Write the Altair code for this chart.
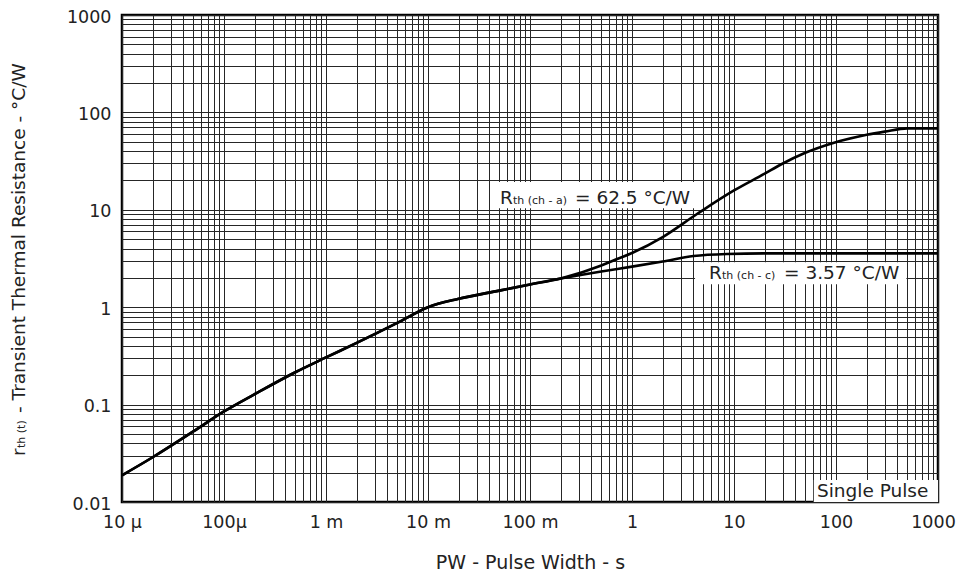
import json
import altair as alt
import pandas as pd

# ---------------- data ----------------
# shared part of both curves: pulse width [s] -> r_th(t) [°C/W]
common_x = [1e-5, 2e-5, 5e-5, 1e-4, 2e-4, 5e-4, 1e-3, 2e-3, 5e-3, 1e-2, 2e-2, 5e-2, 1e-1, 2e-1]
common_y = [0.0188, 0.0288, 0.053, 0.085, 0.128, 0.215, 0.305, 0.43, 0.69, 1.0, 1.22, 1.48, 1.71, 1.97]

# branch: Rth(ch-a) = 62.5 °C/W
ca_x = [0.5, 0.65, 1, 2, 4.3, 10, 20, 28.5, 50, 94, 200, 300, 500, 1000]
ca_y = [2.68, 3.0, 3.6, 5.25, 9.0, 15.8, 23.5, 29.0, 38.5, 48.6, 59, 63.5, 68.5, 68.5]

# branch: Rth(ch-c) = 3.57 °C/W
cc_x = [0.5, 1, 2, 4, 8.5, 20, 1000]
cc_y = [2.33, 2.61, 2.95, 3.35, 3.52, 3.57, 3.57]

# tick labels
x_tick_labels = ["10 μ", "100μ", "1 m", "10 m", "100 m", "1", "10", "100", "1000"]
y_tick_labels = ["0.01", "0.1", "1", "10", "100", "1000"]

# annotations
label_x = [0.0508, 5.69]
label_y = [11.4, 1.97]
label_sym = ["R", "R"]
label_sub = ["th (ch - a)", "th (ch - c)"]
label_val = ["= 62.5 °C/W", "= 3.57 °C/W"]

box_x1 = [0.0415, 4.15, 60.6]
box_x2 = [4.9, 490, 1000]
box_y1 = [10.4, 1.72, 0.01]
box_y2 = [19.3, 2.9, 0.0168]

single_x = [65]
single_y = [0.0113]
single_text = ["Single Pulse"]

# ---------------- build tables ----------------
rows = []
for name, bx, by in [("ch-a", ca_x, ca_y), ("ch-c", cc_x, cc_y)]:
    for xv, yv in zip(common_x + bx, common_y + by):
        rows.append({"series": name, "pw": xv, "r": yv})
curves = pd.DataFrame(rows)

labels = pd.DataFrame({"pw": label_x, "r": label_y, "sym": label_sym,
                       "sub": label_sub, "val": label_val})
boxes = pd.DataFrame({"pw": box_x1, "pw2": box_x2, "r": box_y1, "r2": box_y2})
single = pd.DataFrame({"pw": single_x, "r": single_y, "st": single_text})

x_grid = [m * 10.0 ** e for e in range(-5, 3) for m in range(1, 10)] + [1000.0]
y_grid = [m * 10.0 ** e for e in range(-2, 3) for m in range(1, 10)] + [1000.0]

FONT = "DejaVu Sans"
TXT = "#222222"
GRID = "#262626"

lg = "(log(datum.value)/LN10)"
x_expr = (f"abs({lg} - round({lg})) < 0.01 ? "
          f"{json.dumps(x_tick_labels, ensure_ascii=False)}[round({lg}) + 5] : ''")
y_expr = (f"abs({lg} - round({lg})) < 0.01 ? "
          f"{json.dumps(y_tick_labels, ensure_ascii=False)}[round({lg}) + 2] : ''")

xs = alt.Scale(type="log", domain=[1e-5, 1000], nice=False)
ys = alt.Scale(type="log", domain=[0.01, 1000], nice=False)

xaxis = alt.Axis(
    values=x_grid, labelExpr=x_expr, title="PW - Pulse Width - s",
    grid=True, gridColor=GRID, gridWidth=1, domain=False, ticks=False,
    labelFont=FONT, labelFontSize=17.5, labelColor=TXT, labelPadding=11,
    labelOffset={"condition": {"test": "datum.value >= 999", "value": -5}, "value": 0},
    labelOverlap=False, labelFlush=False,
    titleFont=FONT, titleFontSize=19, titleFontWeight="normal", titleColor=TXT,
    titleY=66, titleBaseline="alphabetic")
yaxis = alt.Axis(
    values=y_grid, labelExpr=y_expr, title=None,
    grid=True, gridColor=GRID, gridWidth=1, domain=False, ticks=False,
    labelFont=FONT, labelFontSize=17.5, labelColor=TXT, labelPadding=11,
    labelOffset=2,
    labelOverlap=False, labelFlush=False, labelBaseline="middle")

X = alt.X("pw:Q", scale=xs, axis=xaxis)
Y = alt.Y("r:Q", scale=ys, axis=yaxis)

line = alt.Chart(curves).mark_line(color="black", strokeWidth=2.6, interpolate="monotone").encode(
    x=X, y=Y, detail="series:N",
)

rects = alt.Chart(boxes).mark_rect(fill="white").encode(
    x=X, x2="pw2:Q", y=Y, y2="r2:Q",
)

base_lbl = alt.Chart(labels).encode(x=X, y=Y)
t_sym = base_lbl.mark_text(align="left", baseline="alphabetic", font=FONT,
                           fontSize=18.5, color=TXT).encode(text="sym:N")
t_sub = base_lbl.mark_text(align="left", baseline="alphabetic", font=FONT,
                           fontSize=11, color=TXT, dx=13).encode(text="sub:N")
t_val = base_lbl.mark_text(align="left", baseline="alphabetic", font=FONT,
                           fontSize=18.5, color=TXT, dx=75).encode(text="val:N")

t_single = alt.Chart(single).mark_text(align="left", baseline="alphabetic", font=FONT,
                                       fontSize=18.5, color=TXT).encode(
    x=X, y=Y, text="st:N",
)

one = pd.DataFrame({"k": [0]})
yt_r = alt.Chart(one).mark_text(text="r", angle=270, align="left", baseline="alphabetic",
                                font=FONT, fontSize=18.5, color=TXT).encode(
    x=alt.value(-97), y=alt.value(441))
yt_sub = alt.Chart(one).mark_text(text="th (t)", angle=270, align="left", baseline="alphabetic",
                                  font=FONT, fontSize=11, color=TXT).encode(
    x=alt.value(-97), y=alt.value(433))
yt_main = alt.Chart(one).mark_text(text="- Transient Thermal Resistance - °C/W", angle=270,
                                   align="left", baseline="alphabetic",
                                   font=FONT, fontSize=18.5, color=TXT).encode(
    x=alt.value(-97), y=alt.value(398))

chart = alt.layer(line, rects, t_sym, t_sub, t_val, t_single, yt_r, yt_sub, yt_main).properties(
    width=816, height=487,
    autosize=alt.AutoSizeParams(type="none"),
    padding={"left": 114, "top": 7, "right": 18, "bottom": 71},
    background="white",
).configure_view(stroke="black", strokeWidth=2.5)

chart.save("out.html", embed_options={"renderer": "svg", "actions": False})
